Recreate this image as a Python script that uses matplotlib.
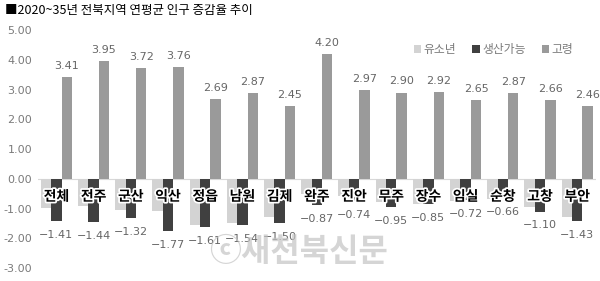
import matplotlib.pyplot as plt
import matplotlib.patheffects as pe
import numpy as np

plt.rcParams['font.family'] = ['Noto Sans CJK KR', 'DejaVu Sans']

regions = ['전체', '전주', '군산', '익산', '정읍', '남원', '김제', '완주',
           '진안', '무주', '장수', '임실', '순창', '고창', '부안']
youth = [-0.98, -0.92, -1.05, -1.07, -1.56, -1.48, -1.30, -0.52,
         -0.57, -0.78, -0.85, -0.76, -0.69, -0.95, -1.29]
working = [-1.41, -1.44, -1.32, -1.77, -1.61, -1.54, -1.50, -0.87,
           -0.74, -0.95, -0.85, -0.72, -0.66, -1.10, -1.43]
elderly = [3.41, 3.95, 3.72, 3.76, 2.69, 2.87, 2.45, 4.20,
           2.97, 2.90, 2.92, 2.65, 2.87, 2.66, 2.46]
yticks = [-3, -2, -1, 0, 1, 2, 3, 4, 5]

c_youth = '#d3d3d3'
c_work = '#404040'
c_old = '#9a9a9a'
txt_gray = '#7a7a7a'

fig = plt.figure(figsize=(6, 2.81), dpi=100)
ax = fig.add_axes([0.063, 0.046, 0.93, 0.847])

x = np.arange(len(regions))
w = 0.28
ax.bar(x - w, youth, w, color=c_youth, label='유소년')
ax.bar(x, working, w, color=c_work, label='생산가능')
ax.bar(x + w, elderly, w, color=c_old, label='고령')

ax.axhline(0, color='#d8d8d8', lw=0.8, zorder=0)

for i in range(len(regions)):
    ax.annotate(f'{working[i]:.2f}'.replace('-', '\u2212'), (x[i], working[i]),
                xytext=(0, -10), textcoords='offset points', ha='center', va='center',
                fontsize=8, color='#666666', family=['DejaVu Sans'])
    ax.annotate(f'{elderly[i]:.2f}', (x[i] + w, elderly[i]),
                xytext=(0, 8), textcoords='offset points', ha='center', va='center',
                fontsize=8, color='#666666', family=['DejaVu Sans'])
    ax.text(x[i], -0.6, regions[i], ha='center', va='center', fontsize=10,
            fontweight='bold', color='black',
            path_effects=[pe.withStroke(linewidth=2.5, foreground='white')])

ax.set_xlim(-0.5, len(regions) - 0.5)
ax.set_ylim(-3, 5)
ax.set_yticks(yticks)
ax.set_yticklabels([f'{t:.2f}' for t in yticks],
                   color=txt_gray, fontsize=8, family=['DejaVu Sans'])
ax.tick_params(axis='y', length=0, pad=4)
ax.set_xticks([])
for s in ax.spines.values():
    s.set_visible(False)

ax.legend(ncol=3, loc='upper right', bbox_to_anchor=(0.97, 0.97), frameon=False,
          fontsize=8.5, labelcolor=txt_gray, handlelength=0.6, handleheight=0.6,
          handletextpad=0.2, columnspacing=1.4, borderpad=0)

fig.text(0.008, 0.962, '■2020~35년 전북지역 연평균 인구 증감율 추이',
         fontsize=9, color='black', va='center', ha='left')

fig.text(0.497, 0.103, 'ⓒ새천북신문', fontsize=23, fontweight='bold',
         color='#c4c4c4', alpha=0.7, ha='center', va='center',
         family=['Noto Sans CJK KR', 'DejaVu Sans'])

fig.savefig('out.png', dpi=100)
